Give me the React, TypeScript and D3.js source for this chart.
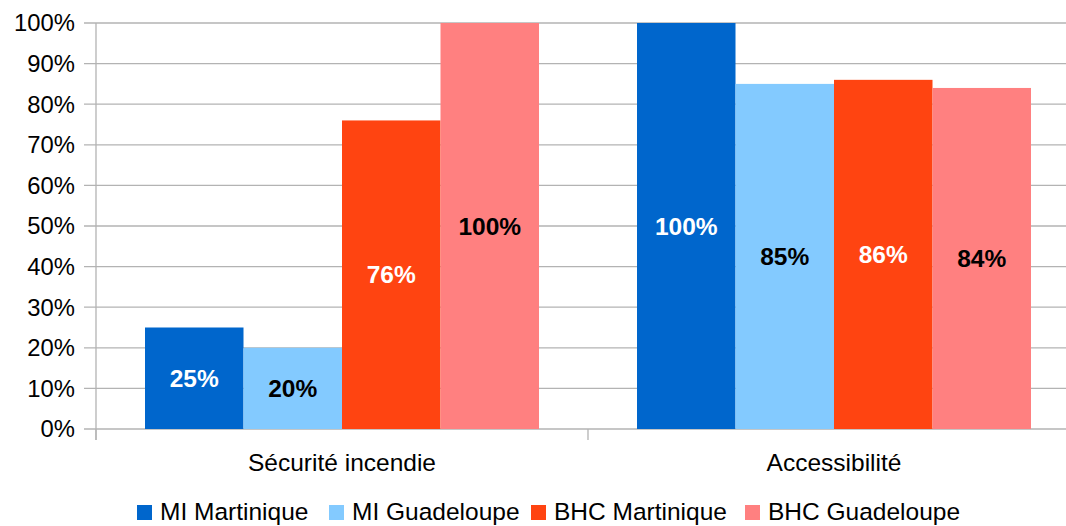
import React from "react";
import * as d3 from "d3";

const categories = ["Sécurité incendie", "Accessibilité"];
const seriesNames = ["MI Martinique", "MI Guadeloupe", "BHC Martinique", "BHC Guadeloupe"];
const seriesColors = ["#0066cc", "#83caff", "#ff4411", "#ff8080"];
const labelColors = ["#ffffff", "#000000", "#ffffff", "#000000"];
const miMartinique = [25, 100];
const miGuadeloupe = [20, 85];
const bhcMartinique = [76, 86];
const bhcGuadeloupe = [100, 84];
const yTicks = [0, 10, 20, 30, 40, 50, 60, 70, 80, 90, 100];

const seriesValues = [miMartinique, miGuadeloupe, bhcMartinique, bhcGuadeloupe];

export default function App() {
  const W = 1066, H = 526;
  const left = 96, right = 1080, top = 23, bottom = 429;
  const font = "'Liberation Sans', Arial, sans-serif";
  const x0 = d3.scaleBand<string>().domain(categories).range([left, right]).paddingInner(0).paddingOuter(0);
  const y = d3.scaleLinear().domain([0, 100]).range([bottom, top]);

  const groupPad = 49;
  const barW = (x0.bandwidth() - 2 * groupPad) / seriesNames.length;

  const legendX = [137, 329, 531, 745];

  return (
    <svg width={W} height={H} style={{ position: "absolute", left: 0, top: 0, background: "#fff" }}>
      <rect x={0} y={0} width={W} height={H} fill="#fff" />
      {yTicks.map((t) => (
        <g key={t}>
          <line x1={84} x2={right} y1={y(t)} y2={y(t)} stroke="#b3b3b3" strokeWidth={1.3} />
          <text x={75} y={y(t)} dy="0.35em" textAnchor="end" fontFamily={font} fontSize={23.8} fill="#000">
            {t}%
          </text>
        </g>
      ))}
      <line x1={left} x2={left} y1={top} y2={bottom + 11} stroke="#b3b3b3" strokeWidth={1.3} />
      {[left, left + x0.bandwidth(), right].map((xx, i) => (
        <line key={i} x1={xx} x2={xx} y1={bottom} y2={bottom + 11} stroke="#b3b3b3" strokeWidth={1.3} />
      ))}
      {categories.map((c, ci) =>
        seriesValues.map((vals, si) => {
          const bx = (x0(c) as number) + groupPad + si * barW;
          const v = vals[ci];
          return (
            <g key={c + si}>
              <rect x={bx} y={y(v)} width={barW} height={bottom - y(v)} fill={seriesColors[si]} />
              <text
                x={bx + barW / 2}
                y={(y(v) + bottom) / 2}
                dy="0.35em"
                textAnchor="middle"
                fontFamily={font}
                fontWeight="bold"
                fontSize={24.5}
                fill={labelColors[si]}
              >
                {v}%
              </text>
            </g>
          );
        })
      )}
      {categories.map((c) => (
        <text key={c} x={(x0(c) as number) + x0.bandwidth() / 2} y={462} dy="0.35em" textAnchor="middle" fontFamily={font} fontSize={24.5} fill="#000">
          {c}
        </text>
      ))}
      {seriesNames.map((s, i) => (
        <g key={s}>
          <rect x={legendX[i]} y={505} width={15} height={15} fill={seriesColors[i]} />
          <text x={legendX[i] + 23} y={520} fontFamily={font} fontSize={24.5} fill="#000">
            {s}
          </text>
        </g>
      ))}
    </svg>
  );
}
